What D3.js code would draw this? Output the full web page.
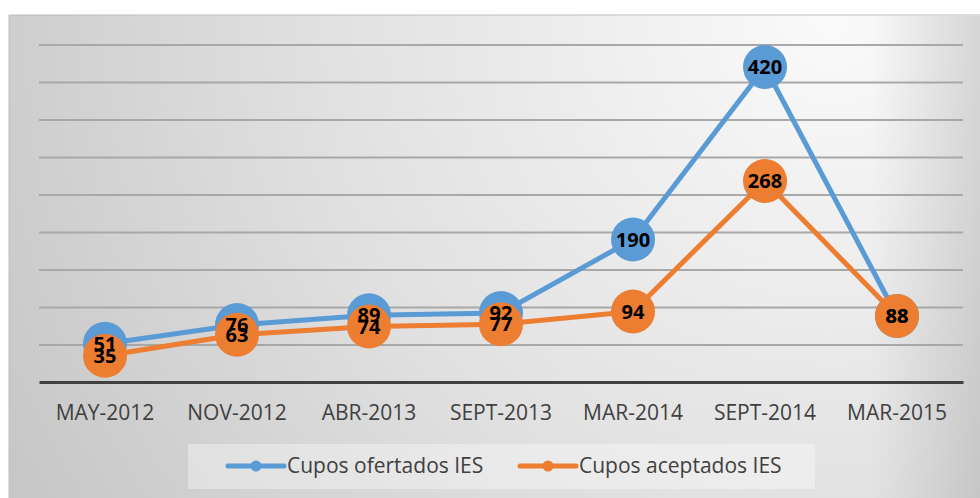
<!DOCTYPE html>
<html>
<head>
<meta charset="utf-8">
<script src="https://d3js.org/d3.v7.min.js"></script>
<style>
  html, body { margin: 0; padding: 0; background: #ffffff; }
  svg { display: block; }
  .axisText { font-family: "Open Sans", sans-serif; font-size: 21px; fill: #404040; }
  .dataLabel { font-family: "Open Sans", sans-serif; font-size: 20px; font-weight: bold; fill: #000; }
</style>
</head>
<body>
<script>
// data
var categories = ["MAY-2012", "NOV-2012", "ABR-2013", "SEPT-2013", "MAR-2014", "SEPT-2014", "MAR-2015"];
var ofertados = [51, 76, 89, 92, 190, 420, 88];
var aceptados = [35, 63, 74, 77, 94, 268, 88];
var seriesNames = ["Cupos ofertados IES", "Cupos aceptados IES"];
var gridTicks = [50, 100, 150, 200, 250, 300, 350, 400, 450];

var svgWidth = 980;
var svgHeight = 498;

var margin = { top: 44.5, right: 17, bottom: 116, left: 39 };
var chartwidth = svgWidth - margin.left - margin.right;
var chartheight = svgHeight - margin.top - margin.bottom;

var svg = d3.select("body")
  .append("svg")
  .attr("width", svgWidth)
  .attr("height", svgHeight);

// panel background
var defs = svg.append("defs");
var rad = defs.append("radialGradient")
  .attr("id", "bg")
  .attr("gradientUnits", "userSpaceOnUse")
  .attr("cx", 830).attr("cy", 20).attr("r", 950);
rad.append("stop").attr("offset", "0%").attr("stop-color", "#fafafa");
rad.append("stop").attr("offset", "55%").attr("stop-color", "#e0e0e0");
rad.append("stop").attr("offset", "100%").attr("stop-color", "#c6c6c6");

var edge = defs.append("linearGradient")
  .attr("id", "edge")
  .attr("gradientUnits", "userSpaceOnUse")
  .attr("x1", 870).attr("y1", 0).attr("x2", 980).attr("y2", 0);
edge.append("stop").attr("offset", "0%").attr("stop-color", "#000").attr("stop-opacity", 0);
edge.append("stop").attr("offset", "100%").attr("stop-color", "#000").attr("stop-opacity", 0.12);

svg.append("rect")
  .attr("x", 9).attr("y", 15)
  .attr("width", 980).attr("height", 490)
  .attr("fill", "url(#bg)")
  .attr("stroke", "#bdbdbd");
svg.append("rect")
  .attr("x", 870).attr("y", 16)
  .attr("width", 110).attr("height", 482)
  .attr("fill", "url(#edge)");

var chartGroup = svg.append("g")
  .attr("transform", `translate(${margin.left}, ${margin.top})`);

// scales
var x = d3.scaleBand()
  .domain(categories)
  .range([0, chartwidth])
  .padding(0);
var y = d3.scaleLinear()
  .domain([0, 450])
  .range([chartheight, 0]);

function cx(i) { return x(categories[i]) + x.bandwidth() / 2; }

// gridlines
chartGroup.append("g")
  .attr("class", "grid")
  .call(d3.axisLeft(y).tickValues(gridTicks).tickSize(-chartwidth).tickFormat(""))
  .call(g => g.select(".domain").remove())
  .call(g => g.selectAll("line").attr("stroke", "#a8a8a8").attr("stroke-width", 2));

// x axis
chartGroup.append("g")
  .attr("transform", `translate(0, ${chartheight})`)
  .call(d3.axisBottom(x).tickSize(0).tickSizeOuter(0))
  .call(g => g.select(".domain").attr("stroke", "#404040").attr("stroke-width", 3))
  .call(g => g.selectAll("text")
    .attr("class", "axisText")
    .attr("font-family", null).attr("font-size", null)
    .attr("y", 38).attr("dy", 0));

// lines and markers
var series = [
  { name: seriesNames[0], values: ofertados, color: "#5b9bd5" },
  { name: seriesNames[1], values: aceptados, color: "#ed7d31" }
];

var line = d3.line()
  .x(function (d, i) { return cx(i); })
  .y(function (d) { return y(d); });

series.forEach(function (s) {
  chartGroup.append("path")
    .datum(s.values)
    .attr("d", line)
    .attr("fill", "none")
    .attr("stroke", s.color)
    .attr("stroke-width", 5)
    .attr("stroke-linejoin", "round")
    .attr("stroke-linecap", "round");
  chartGroup.append("g")
    .selectAll("circle")
    .data(s.values)
    .enter()
    .append("circle")
      .attr("cx", function (d, i) { return cx(i); })
      .attr("cy", function (d) { return y(d); })
      .attr("r", 22)
      .attr("fill", s.color);
});

// data labels on top
series.forEach(function (s) {
  chartGroup.append("g")
    .selectAll("text")
    .data(s.values)
    .enter()
    .append("text")
      .attr("class", "dataLabel")
      .attr("x", function (d, i) { return cx(i); })
      .attr("y", function (d) { return y(d); })
      .attr("dy", "0.36em")
      .attr("text-anchor", "middle")
      .text(function (d) { return d; });
});

// legend
var legend = svg.append("g");
legend.append("rect")
  .attr("x", 188).attr("y", 444)
  .attr("width", 627).attr("height", 45)
  .attr("fill", "#ffffff")
  .attr("fill-opacity", 0.35);

var legendX = [228, 520];
series.forEach(function (s, i) {
  var g = legend.append("g").attr("transform", `translate(${legendX[i]}, 466)`);
  g.append("line")
    .attr("x1", 0).attr("x2", 56)
    .attr("stroke", s.color)
    .attr("stroke-width", 5)
    .attr("stroke-linecap", "round");
  g.append("circle")
    .attr("cx", 28).attr("r", 5.5)
    .attr("fill", s.color);
  g.append("text")
    .attr("class", "axisText")
    .attr("x", 59).attr("y", 7)
    .text(s.name);
});
</script>
</body>
</html>
